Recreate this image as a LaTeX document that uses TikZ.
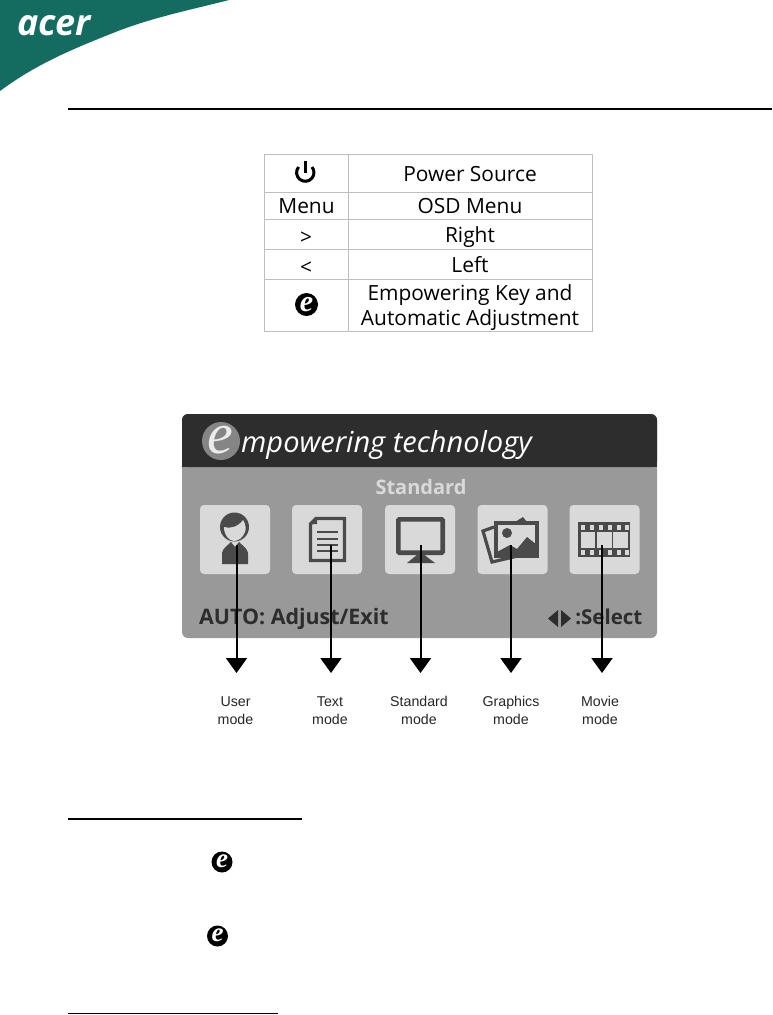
\documentclass[tikz,border=0pt]{standalone}
\usepackage{fontspec}
\setmainfont{Open Sans}
\newfontfamily\arialf{Liberation Sans}
\newfontfamily\serf{Liberation Serif}
\usetikzlibrary{arrows.meta}
\definecolor{acergreen}{HTML}{146B5F}
\definecolor{gridc}{HTML}{BDBDBD}
\definecolor{paneld}{HTML}{2D2D2D}
\definecolor{panelm}{HTML}{999999}
\definecolor{panell}{HTML}{D9D9D9}
\definecolor{icond}{HTML}{4A4A4A}
\tikzset{
  cell/.style={inner sep=0pt,align=center,text=black,anchor=base,font=\fontsize{20.9}{25}\selectfont},
  modelabel/.style={inner sep=0pt,align=center,text=black!85,font=\arialf\fontsize{14.2}{18}\selectfont},
  tile/.style={fill=panell,rounded corners=4pt,minimum width=70pt,minimum height=69pt,inner sep=0pt},
  modearrow/.style={line width=2pt,-{Triangle[length=15pt,width=21pt]}},
  grid line/.style={draw=gridc,line width=1pt},
  ekey/.style={circle,fill=black,text=white,inner sep=0pt,minimum size=23pt,font=\serf\bfseries\itshape\fontsize{30}{30}\selectfont},
}
\begin{document}
\begin{tikzpicture}[x=1pt,y=-1pt]
\useasboundingbox (0,0) rectangle (772,1015);
\fill[white] (0,0) rectangle (772,1015);
% corner logo
\fill[acergreen] (0,0) -- (229,0) .. controls (190,10) and (150,18) .. (113,33) .. controls (70,50) and (35,65) .. (0,91) -- cycle;
\node[inner sep=0pt,anchor=base,text=white,font=\bfseries\itshape\fontsize{36}{36}\selectfont] (logo) at (54,35.5) {acer};
\draw[line width=2pt,black] (68,109) -- (772,109);
% table
\draw[grid line] (264,154) rectangle (592.5,331.5);
\draw[grid line] (348,154) -- (348,331.5);
\foreach \yy in {192,219.5,249.5,279.5} \draw[grid line] (264,\yy) -- (592.5,\yy);
\draw[line width=3pt] (298.6,167) arc[start angle=220,end angle=-40,radius=8.7];
\draw[line width=3pt] (305.3,161) -- (305.3,173);
\node[cell] (k2) at (306.5,213.5) {Menu};
\node[cell] (k3) at (306,244.5) {>};
\node[cell] (k4) at (306,274.5) {<};
\node[ekey] (k5) at (306.5,304.5) {\raisebox{1pt}{e}};
\node[cell] (v1) at (470,181.5) {Power Source};
\node[cell] (v2) at (470,213.5) {OSD Menu};
\node[cell] (v3) at (470,242.5) {Right};
\node[cell] (v4) at (470,272.5) {Left};
\node[cell,anchor=center] (v5) at (470,308) {Empowering Key and\\Automatic Adjustment};
% panel
\fill[panelm,rounded corners=6pt] (182,414) rectangle (657,638);
\fill[paneld,rounded corners=6pt] (182,467) -- (182,414) -- (657,414) -- (657,467) -- cycle;
\fill[paneld] (182,460) rectangle (657,467);
\node[circle,fill=black!48,minimum size=38pt,inner sep=0pt] (bigc) at (221,441) {};
\node[anchor=base,inner sep=0pt,text=white!92!black,font=\serf\itshape\fontsize{58}{58}\selectfont] (bige) at (220,453) {e};
\node[anchor=base west,inner sep=0pt,text=white,font=\itshape\fontsize{29}{29}\selectfont] (title) at (241,452) {mpowering technology};
\node[inner sep=0pt,anchor=base,text=panell,font=\bfseries\fontsize{20}{20}\selectfont] (std) at (421,494) {Standard};
\node[anchor=base west,inner sep=0pt,text=paneld,font=\bfseries\fontsize{21.4}{21.4}\selectfont] (auto) at (199,624.5) {AUTO: Adjust/Exit};
\node[anchor=base east,inner sep=0pt,text=paneld,font=\bfseries\fontsize{20.5}{20.5}\selectfont] (sel) at (642.5,624.5) {:Select};
\fill[paneld] (558,610) -- (558,627) -- (548,618.5) -- cycle;
\fill[paneld] (561,610) -- (561,627) -- (571,618.5) -- cycle;
% tiles
\node[tile] (user) at (235,539.5) {};
\node[tile] (text) at (327,539.5) {};
\node[tile] (mon) at (420,539.5) {};
\node[tile] (gfx) at (512.5,539.5) {};
\node[tile] (film) at (604.5,539.5) {};
% user icon
\fill[icond] (222,564) -- (222,553) .. controls (223,548) and (227,546) .. (231,542) -- (235,547) -- (239,542) .. controls (243,546) and (247,548) .. (248,553) -- (248,564) -- cycle;
\fill[icond] (234.5,527) circle (14.5);
\fill[panell] (224,527) .. controls (230,529) and (238,527) .. (243,520) .. controls (246,524) and (246,530) .. (245,532) .. controls (243,538) and (238,541) .. (234,541) .. controls (229,541) and (224,535) .. (224,527) -- cycle;
% text icon
\draw[icond,line width=3.4pt] (316,518.5) -- (344.5,518.5) -- (344.5,560.5) -- (310.5,560.5) -- (310.5,524) -- cycle;
\fill[icond] (311,524) -- (317,524) -- (317,518) -- cycle;
\foreach \yy in {532,539,545,551} \draw[icond,line width=2.2pt] (317,\yy) -- (338,\yy);
% monitor icon
\draw[icond,line width=4.6pt,rounded corners=1pt] (398.3,519.3) rectangle (442.7,552.7);
\fill[icond] (420.5,552) -- (435,563) -- (407,563) -- cycle;
% graphics icon
\draw[icond,line width=3.2pt] (494,527) -- (483,531) -- (492,562) -- (522,555);
\fill[icond] (515,522) -- (523,517) -- (527,522) -- cycle;
\draw[icond,line width=3.2pt] (496,523) rectangle (537,556);
\fill[icond] (507,533) circle (5);
\fill[icond] (497,553) -- (497,552) -- (510,545) -- (517,549) -- (527,537) -- (537,545) -- (537,556) -- (497,556) -- cycle;
% film icon
\fill[icond] (578,522) rectangle (630,557);
\foreach \xx/\wid in {581/14,597/15,613/15} \fill[panell] (\xx,532) rectangle ++(\wid,16);
\foreach \xx in {581,590,599,608,617,625} {
  \fill[panell] (\xx,524.5) rectangle ++(3.5,5);
  \fill[panell] (\xx,550) rectangle ++(3.5,5);
}
% arrows
\coordinate (a1s) at (236.5,545); \coordinate (a1e) at (236.5,673);
\coordinate (a2s) at (331,545); \coordinate (a2e) at (331,673);
\coordinate (a3s) at (420.5,545); \coordinate (a3e) at (420.5,673);
\coordinate (a4s) at (511,545); \coordinate (a4e) at (511,673);
\coordinate (a5s) at (602,545); \coordinate (a5e) at (602,673);
\draw[modearrow] (a1s) -- (a1e);
\draw[modearrow] (a2s) -- (a2e);
\draw[modearrow] (a3s) -- (a3e);
\draw[modearrow] (a4s) -- (a4e);
\draw[modearrow] (a5s) -- (a5e);
\node[modelabel] (l1) at (235.5,711.5) {\strut User\\\strut mode};
\node[modelabel] (l2) at (330,711.5) {\strut Text\\\strut mode};
\node[modelabel] (l3) at (419,711.5) {\strut Standard\\\strut mode};
\node[modelabel] (l4) at (511,711.5) {\strut Graphics\\\strut mode};
\node[modelabel] (l5) at (600,711.5) {\strut Movie\\\strut mode};
% bottom
\draw[line width=1.4pt] (68,819) -- (302,819);
\node[ekey,minimum size=21pt,font=\serf\bfseries\itshape\fontsize{27}{27}\selectfont] (e1) at (222,862) {\raisebox{1pt}{e}};
\node[ekey,minimum size=21pt,font=\serf\bfseries\itshape\fontsize{27}{27}\selectfont] (e2) at (217.5,936) {\raisebox{1pt}{e}};
\draw[line width=1.4pt] (68,1013.5) -- (278,1013.5);
\end{tikzpicture}
\end{document}
